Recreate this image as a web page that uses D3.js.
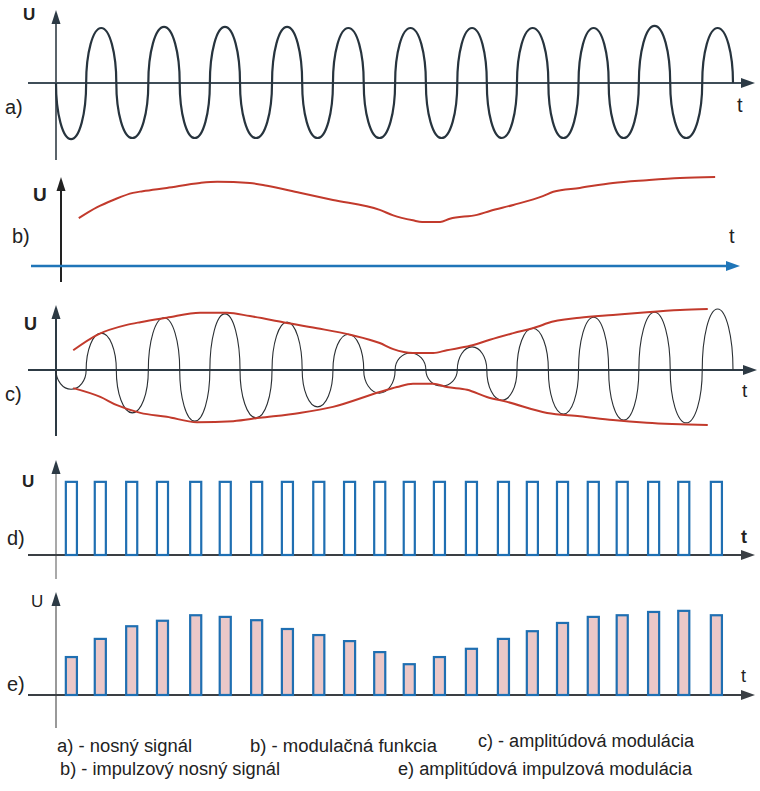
<!DOCTYPE html>
<html>
<head>
<meta charset="utf-8">
<script src="https://cdn.jsdelivr.net/npm/d3@7"></script>
<style>
  body { margin: 0; background: #fff; }
  svg { display: block; }
  text { font-family: "Liberation Sans", Arial, sans-serif; fill: #222; }
</style>
</head>
<body>
<div id="chart"></div>
<script>
/* =====================================================
   DATA (t = carrier periods, U = relative voltage)
===================================================== */

// zero crossings of the carrier, shared by a) and c)
const carrierZeros = [0, 0.49, 0.98, 1.5, 2.01, 2.5, 2.99, 3.51, 4.0, 4.5, 5.0, 5.51,
  6.01, 6.52, 7.0, 7.49, 8.0, 8.49, 8.98, 9.47, 9.98, 10.5, 11.0];

// peak of every half wave (sign = direction)
const carrierPeaks = [-1.02, 1.0, -1.0, 1.02, -1.0, 1.02, -1.0, 1.02, -1.0, 1.0, -1.0,
  1.0, -1.0, 1.0, -1.0, 1.0, -1.0, 1.0, -1.0, 1.04, -1.0, 1.0];
const amPeaks = [-0.35, 0.67, -0.78, 0.95, -0.93, 1.02, -0.87, 0.87, -0.67, 0.65, -0.42,
  0.31, -0.29, 0.42, -0.55, 0.76, -0.8, 0.96, -0.91, 1.05, -0.96, 1.11];

// b) modulating function
const modT = [0.37, 0.67, 0.93, 1.25, 1.41, 1.8, 2.34, 2.62, 3.15, 3.43, 3.96, 4.5, 5.26,
  5.48, 5.8, 5.95, 6.24, 6.4, 6.84, 7.05, 7.43, 7.91, 8.08, 8.51, 9.05, 9.6, 10.14, 10.71];
const modU = [0.87, 1.07, 1.2, 1.33, 1.36, 1.42, 1.51, 1.53, 1.51, 1.46, 1.33, 1.2, 1.02,
  0.92, 0.83, 0.8, 0.8, 0.86, 0.93, 1.0, 1.11, 1.27, 1.35, 1.42, 1.51, 1.56, 1.6, 1.62];

// c) envelopes
const envUpperT = [0.28, 0.67, 1.15, 1.37, 1.8, 2.34, 2.78, 3.15, 3.69, 4.24, 4.78, 5.26,
  5.48, 5.8, 6.13, 6.35, 6.73, 7.05, 7.43, 7.86, 7.98, 8.51, 9.05, 9.6, 10.14, 10.59];
const envUpperU = [0.36, 0.64, 0.82, 0.87, 0.95, 1.04, 1.04, 0.98, 0.87, 0.76, 0.64, 0.49,
  0.38, 0.31, 0.31, 0.36, 0.44, 0.55, 0.67, 0.8, 0.85, 0.95, 1.0, 1.05, 1.09, 1.11];
const envLowerT = [0.28, 0.72, 0.99, 1.37, 1.8, 2.29, 2.88, 3.31, 3.96, 4.5, 5.26, 5.54,
  5.8, 6.13, 6.35, 6.68, 7.0, 7.33, 7.98, 8.51, 9.05, 9.6, 10.59];
const envLowerU = [-0.33, -0.49, -0.64, -0.78, -0.85, -0.95, -0.93, -0.87, -0.78, -0.67,
  -0.4, -0.31, -0.25, -0.25, -0.31, -0.36, -0.49, -0.58, -0.78, -0.84, -0.91, -0.96, -1.0];

// d) / e) pulses
const pulseT = [0.16, 0.63, 1.14, 1.64, 2.18, 2.66, 3.17, 3.67, 4.18, 4.68, 5.17, 5.65,
  6.14, 6.66, 7.18, 7.65, 8.14, 8.64, 9.11, 9.62, 10.11, 10.64];
const pulseU = 1.33;
const pamU = [0.69, 1.02, 1.25, 1.35, 1.45, 1.42, 1.36, 1.2, 1.09, 0.98, 0.78, 0.56,
  0.69, 0.84, 1.02, 1.16, 1.31, 1.42, 1.45, 1.51, 1.53, 1.45];

const legendRows = [
  ['a) - nosný signál', 'b) - modulačná funkcia', 'c) - amplitúdová modulácia'],
  ['b) - impulzový nosný signál', 'e) amplitúdová impulzová modulácia'],
];

/* =====================================================
   CONFIG
===================================================== */
const CONFIG = {
  width: 760,
  height: 791,
  pulseWidth: 0.18,
  panels: {
    a: { axisY: 83, yAxisX: 56, yTop: 10, yBottom: 160, xStart: 28, xEnd: 755 },
    b: { axisY: 266, yAxisX: 61, yTop: 177, yBottom: 282, xStart: 31, xEnd: 740 },
    c: { axisY: 370, yAxisX: 56, yTop: 305, yBottom: 436, xStart: 28, xEnd: 757 },
    d: { axisY: 555, yAxisX: 56, yTop: 460, yBottom: 579, xStart: 28, xEnd: 755 },
    e: { axisY: 695, yAxisX: 56, yTop: 592, yBottom: 728, xStart: 28, xEnd: 755 },
  },
};

const svg = d3.select('#chart').append('svg')
  .attr('width', CONFIG.width)
  .attr('height', CONFIG.height);

const x = d3.scaleLinear().domain([0, 11]).range([56, 733]);
const yU = d3.scaleLinear().domain([-1, 1]).range([55, -55]); // relative to axis

/* =====================================================
   HELPERS
===================================================== */
function panel(key) {
  return svg.append('g').attr('transform', `translate(0,${CONFIG.panels[key].axisY})`);
}

function arrowUp(g, cx, tip, color, len = 14, half = 4.5) {
  g.append('path')
    .attr('d', `M${cx},${tip}L${cx - half},${tip + len}L${cx + half},${tip + len}Z`)
    .attr('fill', color);
}
function arrowRight(g, tip, cy, color, len = 14, half = 5) {
  g.append('path')
    .attr('d', `M${tip},${cy}L${tip - len},${cy - half}L${tip - len},${cy + half}Z`)
    .attr('fill', color);
}

function drawAxes(key, opt) {
  const p = CONFIG.panels[key];
  svg.append('line')
    .attr('x1', p.yAxisX).attr('x2', p.yAxisX)
    .attr('y1', p.yTop + 10).attr('y2', p.yBottom)
    .attr('stroke', opt.yColor).attr('stroke-width', opt.yWidth || 2);
  arrowUp(svg, p.yAxisX, p.yTop, opt.yArrow || opt.yColor);
  svg.append('line')
    .attr('x1', p.xStart).attr('x2', p.xEnd - 10)
    .attr('y1', p.axisY).attr('y2', p.axisY)
    .attr('stroke', opt.xColor).attr('stroke-width', opt.xWidth || 2);
  arrowRight(svg, p.xEnd, p.axisY, opt.xArrow || opt.xColor);
}

// each half wave as half an ellipse (steep sides, round tops)
function wavePath(zeros, peaks) {
  const p = d3.path();
  const k = 0.55;
  p.moveTo(x(zeros[0]), yU(0));
  peaks.forEach((a, i) => {
    const x0 = x(zeros[i]), x1 = x(zeros[i + 1]);
    const w = (x1 - x0) / 2, xm = x0 + w;
    const y0 = yU(0), yp = yU(a);
    p.bezierCurveTo(x0, y0 + k * (yp - y0), xm - k * w, yp, xm, yp);
    p.bezierCurveTo(xm + k * w, yp, x1, y0 + k * (yp - y0), x1, y0);
  });
  return p.toString();
}

const curve = d3.line()
  .x((d) => x(d[0]))
  .y((d) => yU(d[1]))
  .curve(d3.curveMonotoneX);

function label(txt, px, py, size, weight) {
  svg.append('text')
    .attr('x', px).attr('y', py)
    .attr('font-size', size)
    .attr('font-weight', weight || 'normal')
    .text(txt);
}

/* =====================================================
   a) carrier
===================================================== */
drawAxes('a', { yColor: '#5b646b', xColor: '#3f4d58', xArrow: '#2c3a45', yArrow: '#2c3a45' });
panel('a').append('path')
  .attr('d', wavePath(carrierZeros, carrierPeaks))
  .attr('fill', 'none')
  .attr('stroke', '#27343e')
  .attr('stroke-width', 2.2);

/* =====================================================
   b) modulating function
===================================================== */
{
  const p = CONFIG.panels.b;
  svg.append('line')
    .attr('x1', p.yAxisX).attr('x2', p.yAxisX)
    .attr('y1', p.yTop + 10).attr('y2', p.yBottom)
    .attr('stroke', '#222').attr('stroke-width', 2);
  arrowUp(svg, p.yAxisX, p.yTop, '#222');
  svg.append('line')
    .attr('x1', p.xStart).attr('x2', p.xEnd - 10)
    .attr('y1', p.axisY).attr('y2', p.axisY)
    .attr('stroke', '#1f75b8').attr('stroke-width', 2.5);
  arrowRight(svg, p.xEnd, p.axisY, '#1f75b8');
  panel('b').append('path')
    .datum(d3.zip(modT, modU))
    .attr('d', curve)
    .attr('fill', 'none')
    .attr('stroke', '#c23a2c')
    .attr('stroke-width', 2);
}

/* =====================================================
   c) amplitude modulation
===================================================== */
drawAxes('c', { yColor: '#2d3a44', xColor: '#2d3a44' });
{
  const g = panel('c');
  g.append('path')
    .attr('d', wavePath(carrierZeros, amPeaks))
    .attr('fill', 'none')
    .attr('stroke', '#2a2f33')
    .attr('stroke-width', 1.1);
  [[envUpperT, envUpperU], [envLowerT, envLowerU]].forEach(([t, u]) => {
    g.append('path')
      .datum(d3.zip(t, u))
      .attr('d', curve)
      .attr('fill', 'none')
      .attr('stroke', '#c23a2c')
      .attr('stroke-width', 2);
  });
}

/* =====================================================
   d) pulse carrier
===================================================== */
drawAxes('d', { yColor: '#8c8c8c', yWidth: 1.5, yArrow: '#2c3a45', xColor: '#3a3f44', xWidth: 1.8 });
panel('d').selectAll('.pulse')
  .data(pulseT)
  .enter()
  .append('rect')
  .attr('class', 'pulse')
  .attr('x', (d) => x(d))
  .attr('width', x(CONFIG.pulseWidth) - x(0))
  .attr('y', yU(pulseU))
  .attr('height', yU(0) - yU(pulseU))
  .attr('fill', 'none')
  .attr('stroke', '#1f6fb2')
  .attr('stroke-width', 2.2);

/* =====================================================
   e) pulse amplitude modulation
===================================================== */
drawAxes('e', { yColor: '#777', yWidth: 1.5, yArrow: '#2c3a45', xColor: '#3a3f44', xWidth: 1.8 });
panel('e').selectAll('.pam')
  .data(d3.zip(pulseT, pamU))
  .enter()
  .append('rect')
  .attr('class', 'pam')
  .attr('x', (d) => x(d[0]))
  .attr('width', x(CONFIG.pulseWidth) - x(0))
  .attr('y', (d) => yU(d[1]))
  .attr('height', (d) => yU(0) - yU(d[1]))
  .attr('fill', '#ebc8c8')
  .attr('stroke', '#1f6fb2')
  .attr('stroke-width', 2.2);

/* =====================================================
   LABELS
===================================================== */
label('U', 23, 20, 17, 'bold');
label('a)', 5, 114, 20);
label('t', 737, 112, 20);

label('U', 33, 201, 19, 'bold');
label('b)', 12, 243, 20);
label('t', 729, 243, 20);

label('U', 24, 330, 18, 'bold');
label('c)', 5, 401, 20);
label('t', 742, 397, 19);

label('U', 22, 487, 17, 'bold');
label('d)', 7, 545, 20);
label('t', 741, 543, 18, 'bold');

label('U', 31, 607, 17);
label('e)', 7, 691, 20);
label('t', 741, 682, 18);

// legend
const legendPos = [
  [[57, 752, 135], [250, 752, 187], [478, 747, 216]],
  [[60, 775, 220], [398, 775, 294]],
];
legendRows.forEach((row, r) => {
  row.forEach((txt, i) => {
    const [lx, ly, len] = legendPos[r][i];
    svg.append('text')
      .attr('x', lx).attr('y', ly)
      .attr('font-size', 18)
      .attr('textLength', len)
      .attr('lengthAdjust', 'spacingAndGlyphs')
      .text(txt);
  });
});
</script>
</body>
</html>
